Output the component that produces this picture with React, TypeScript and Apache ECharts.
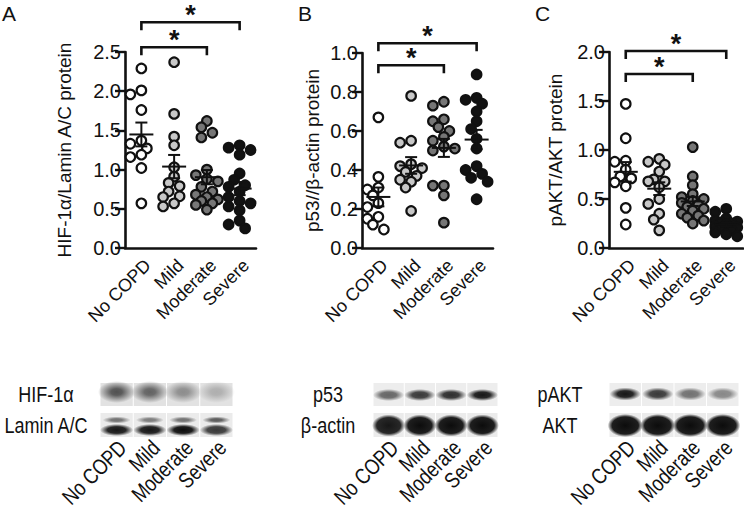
import React, { useEffect, useRef } from "react";
import * as echarts from "echarts";

// ---------- data ----------
const categories = ["No COPD", "Mild", "Moderate", "Severe"];
const groupFill = ["#ffffff", "#c8c8c8", "#767676", "#121212"];

// Panel A: HIF-1α / Lamin A/C
const hifNoCopd = [2.29, 2.01, 1.96, 1.76, 1.37, 1.33, 1.27, 1.19, 1.16, 1.02, 0.57];
const hifMild = [2.37, 1.71, 1.42, 1.31, 1.03, 0.91, 0.83, 0.79, 0.72, 0.66, 0.65, 0.57, 0.53];
const hifModerate = [1.62, 1.54, 1.47, 1.41, 1.0, 0.93, 0.88, 0.85, 0.78, 0.72, 0.68, 0.65, 0.62, 0.6, 0.57, 0.55, 0.49];
const hifSevere = [1.31, 1.28, 1.25, 1.19, 0.95, 0.87, 0.8, 0.78, 0.72, 0.65, 0.6, 0.57, 0.53, 0.48, 0.35, 0.3, 0.25];
const hifBrackets = [[0, 3, 2.88], [0, 2, 2.56]];

// Panel B: p53 / β-actin
const p53NoCopd = [0.67, 0.365, 0.31, 0.3, 0.27, 0.23, 0.21, 0.16, 0.15, 0.12, 0.095];
const p53Mild = [0.78, 0.55, 0.54, 0.43, 0.42, 0.41, 0.39, 0.37, 0.35, 0.34, 0.31, 0.19];
const p53Moderate = [0.75, 0.73, 0.66, 0.65, 0.62, 0.6, 0.57, 0.55, 0.52, 0.51, 0.5, 0.32, 0.32, 0.27, 0.13];
const p53Severe = [0.89, 0.77, 0.76, 0.74, 0.7, 0.65, 0.61, 0.56, 0.51, 0.42, 0.4, 0.38, 0.36, 0.34, 0.25];
const p53Brackets = [[0, 3, 1.05], [0, 2, 0.937]];

// Panel C: pAKT / AKT
const aktNoCopd = [1.47, 1.12, 0.89, 0.88, 0.8, 0.73, 0.71, 0.67, 0.63, 0.41, 0.24];
const aktMild = [0.91, 0.88, 0.85, 0.78, 0.7, 0.68, 0.68, 0.62, 0.5, 0.45, 0.35, 0.29, 0.18];
const aktModerate = [1.03, 0.73, 0.64, 0.55, 0.52, 0.5, 0.48, 0.46, 0.44, 0.42, 0.4, 0.38, 0.35, 0.33, 0.31, 0.28, 0.25];
const aktSevere = [0.4, 0.37, 0.3, 0.28, 0.27, 0.26, 0.25, 0.24, 0.22, 0.21, 0.2, 0.18, 0.16, 0.14, 0.12];
const aktBrackets = [[0, 3, 2.01], [0, 2, 1.776]];

// Western blot band intensities (0..1) per lane
const hifBand = [0.85, 0.75, 0.5, 0.3];
const laminUpperBand = [0.55, 0.5, 0.55, 0.65];
const laminLowerBand = [0.95, 0.95, 1.0, 0.8];
const p53Band = [0.6, 0.8, 0.85, 0.95];
const actinBand = [0.95, 1, 1, 1];
const paktBand = [0.95, 0.8, 0.55, 0.45];
const aktBand = [1, 1, 1, 1];

// ---------- layout ----------
const FONT = "'Liberation Sans', Arial, Helvetica, sans-serif";
const INK = "#111111";

const panels = [
  { letter: "A", letterX: 2, yName: "HIF-1α/Lamin A/C protein", max: 2.5, interval: 0.5, nameGap: 51,
    groups: [hifNoCopd, hifMild, hifModerate, hifSevere], brackets: hifBrackets,
    grid: { left: 125, top: 52, width: 131, height: 196 } },
  { letter: "B", letterX: 298, yName: "p53//β-actin protein", max: 1.0, interval: 0.2, nameGap: 40,
    groups: [p53NoCopd, p53Mild, p53Moderate, p53Severe], brackets: p53Brackets,
    grid: { left: 362, top: 53, width: 131, height: 195 } },
  { letter: "C", letterX: 535, yName: "pAKT/AKT protein", max: 2.0, interval: 0.5, nameGap: 44,
    groups: [aktNoCopd, aktMild, aktModerate, aktSevere], brackets: aktBrackets,
    grid: { left: 609, top: 52, width: 134, height: 196 } },
];

const blots = [
  { x0: 100, x1: 233, labelX: 46, labels: ["HIF-1α", "Lamin A/C"], kind: "hif" },
  { x0: 373, x1: 498, labelX: 328, labels: ["p53", "β-actin"], kind: "p53" },
  { x0: 609, x1: 739, labelX: 560, labels: ["pAKT", "AKT"], kind: "akt" },
];
const ROW1 = [383, 406];
const ROW2 = [413, 437];

// ---------- helpers ----------
function mean(a: number[]) { return a.reduce((s, v) => s + v, 0) / a.length; }
function sem(a: number[]) {
  const m = mean(a);
  const sd = Math.sqrt(a.reduce((s, v) => s + (v - m) * (v - m), 0) / (a.length - 1));
  return sd / Math.sqrt(a.length);
}
// deterministic beeswarm offsets (pixels), capped width
function swarm(values: number[], pxPerUnit: number, d = 8, step = 5.5) {
  const order = values.map((_, i) => i).sort((a, b) => values[b] - values[a]);
  const placed: { x: number; y: number }[] = [];
  const offs = new Array(values.length).fill(0);
  const cands = [0, -step, step, -2 * step, 2 * step];
  for (const i of order) {
    const y = values[i] * pxPerUnit;
    let chosen: number | null = null;
    let best = 0, bestD = -1;
    for (const c of cands) {
      const md = placed.length ? Math.min(...placed.map((p) => Math.hypot(p.x - c, p.y - y))) : Infinity;
      if (md >= d) { chosen = c; break; }
      if (md > bestD) { bestD = md; best = c; }
    }
    const x = chosen === null ? best : chosen;
    offs[i] = x;
    placed.push({ x, y });
  }
  return offs;
}

function band(cx: number, cy: number, rx: number, ry: number, a: number, core = 0.5) {
  return {
    type: "ellipse",
    shape: { cx, cy, rx, ry },
    style: {
      fill: new echarts.graphic.RadialGradient(0.5, 0.5, 0.5, [
        { offset: 0, color: `rgba(12,12,12,${a})` },
        { offset: core, color: `rgba(12,12,12,${a * 0.92})` },
        { offset: 1, color: "rgba(12,12,12,0)" },
      ]),
    },
    silent: true,
  };
}

function condText(text: string, x: number, y: number, align: string, rotation = 0, size = 22) {
  return {
    type: "text",
    x, y, rotation, scaleX: 0.82,
    style: { text, font: `${size}px ${FONT}`, fill: INK, align, verticalAlign: "middle" },
    silent: true,
  };
}

function buildGraphic() {
  const els: any[] = [];
  panels.forEach((p) => {
    els.push({ type: "text", x: p.letterX, y: 13,
      style: { text: p.letter, font: `21px ${FONT}`, fill: INK, align: "left", verticalAlign: "middle" } });
  });
  blots.forEach((b) => {
    const lw = (b.x1 - b.x0) / 4;
    for (let i = 0; i < 4; i++) {
      const lx = b.x0 + i * lw;
      const cx = lx + lw / 2;
      els.push({ type: "rect", shape: { x: lx + 0.5, y: ROW1[0], width: lw - 1, height: ROW1[1] - ROW1[0] },
        style: { fill: b.kind === "hif" ? "#e2e2e2" : "#ededed" }, silent: true });
      els.push({ type: "rect", shape: { x: lx + 0.5, y: ROW2[0], width: lw - 1, height: ROW2[1] - ROW2[0] },
        style: { fill: "#ebebeb" }, silent: true });
      if (b.kind === "hif") {
        els.push(band(cx, 392, lw * 0.56, 11, hifBand[i] * 0.8, 0.3));
        els.push(band(cx, 420, lw * 0.42, 3.5, laminUpperBand[i], 0.4));
        els.push(band(cx, 430, lw * 0.5, 6, laminLowerBand[i], 0.55));
      } else if (b.kind === "p53") {
        els.push(band(cx, 395, lw * 0.5, 6, p53Band[i], 0.5));
        els.push(band(cx, 425.5, lw * 0.53, 11, actinBand[i], 0.72));
      } else {
        els.push(band(cx, 394, lw * 0.48, 6.5, paktBand[i], 0.5));
        els.push(band(cx, 425.5, lw * 0.54, 11.5, aktBand[i], 0.75));
      }
      els.push(condText(categories[i], cx + 6, 444, "right", Math.PI / 4, 22));
    }
    els.push(condText(b.labels[0], b.labelX, 394, "center"));
    els.push(condText(b.labels[1], b.labelX, 425, "center"));
  });
  return els;
}

function buildOption() {
  const grid: any[] = [], xAxis: any[] = [], yAxis: any[] = [], series: any[] = [];
  panels.forEach((p, pi) => {
    grid.push({ ...p.grid, containLabel: false });
    xAxis.push({
      gridIndex: pi, type: "category", data: categories, boundaryGap: true,
      axisLine: { lineStyle: { color: INK, width: 2.6 } },
      axisTick: { alignWithLabel: true, length: 8, lineStyle: { width: 2.4, color: INK } },
      axisLabel: { rotate: 45, fontSize: 18, color: INK, fontFamily: FONT, margin: 8, interval: 0,
        align: "right", verticalAlign: "top" },
      splitLine: { show: false },
    });
    yAxis.push({
      gridIndex: pi, type: "value", min: 0, max: p.max, interval: p.interval,
      name: p.yName, nameLocation: "middle", nameGap: p.nameGap,
      nameTextStyle: { fontSize: 19, color: INK, fontFamily: FONT },
      axisLine: { show: true, lineStyle: { color: INK, width: 2.6 } },
      axisTick: { show: true, length: 10, lineStyle: { width: 2.4, color: INK } },
      axisLabel: { fontSize: 20, color: INK, fontFamily: FONT, margin: 4, formatter: (v: number) => v.toFixed(1) },
      splitLine: { show: false },
    });
    const pxPerUnit = p.grid.height / p.max;
    p.groups.forEach((vals, gi) => {
      const offs = swarm(vals, pxPerUnit);
      series.push({
        type: "scatter", xAxisIndex: pi, yAxisIndex: pi, symbol: "circle", symbolSize: 9.5,
        itemStyle: { color: groupFill[gi], borderColor: INK, borderWidth: 2.2, opacity: 1 },
        data: vals.map((v, k) => ({ value: [gi, v], symbolOffset: [offs[k], 0] })),
        z: 2, silent: true,
      });
    });
    series.push({
      type: "custom", xAxisIndex: pi, yAxisIndex: pi, z: 5, silent: true,
      data: p.groups.map((g, gi) => [gi, mean(g), sem(g)]),
      renderItem: (_params: any, api: any) => {
        const c = api.value(0), m = api.value(1), s = api.value(2);
        const [x, y] = api.coord([c, m]);
        const yt = api.coord([c, m + s])[1];
        const yb = api.coord([c, m - s])[1];
        const style = { stroke: INK, lineWidth: 2 };
        return {
          type: "group", children: [
            { type: "line", shape: { x1: x - 12, y1: y, x2: x + 12, y2: y }, style },
            { type: "line", shape: { x1: x, y1: yt, x2: x, y2: yb }, style },
            { type: "line", shape: { x1: x - 6, y1: yt, x2: x + 6, y2: yt }, style },
            { type: "line", shape: { x1: x - 6, y1: yb, x2: x + 6, y2: yb }, style },
          ],
        };
      },
    });
    series.push({
      type: "custom", xAxisIndex: pi, yAxisIndex: pi, z: 6, silent: true, clip: false,
      data: p.brackets,
      renderItem: (_params: any, api: any) => {
        const a = api.value(0), b = api.value(1), lv = api.value(2);
        const [x1, y] = api.coord([a, lv]);
        const x2 = api.coord([b, lv])[0];
        return {
          type: "group", children: [
            { type: "polyline", shape: { points: [[x1, y + 8], [x1, y], [x2, y], [x2, y + 8]] },
              style: { stroke: INK, lineWidth: 2.6, fill: "none" } },
            { type: "text", x: (x1 + x2) / 2, y: y - 7,
              style: { text: "*", font: `bold 27px ${FONT}`, fill: INK, align: "center", verticalAlign: "middle" } },
          ],
        };
      },
    });
  });
  return {
    animation: false, backgroundColor: "#ffffff",
    grid, xAxis, yAxis, series, graphic: buildGraphic(),
  };
}

export default function App() {
  const ref = useRef<HTMLDivElement>(null);
  useEffect(() => {
    if (!ref.current) return;
    const chart = echarts.init(ref.current, undefined, { renderer: "svg" });
    chart.setOption(buildOption() as any);
    return () => chart.dispose();
  }, []);
  return <div ref={ref} style={{ position: "fixed", left: 0, top: 0, width: 744, height: 510, background: "#fff" }} />;
}
